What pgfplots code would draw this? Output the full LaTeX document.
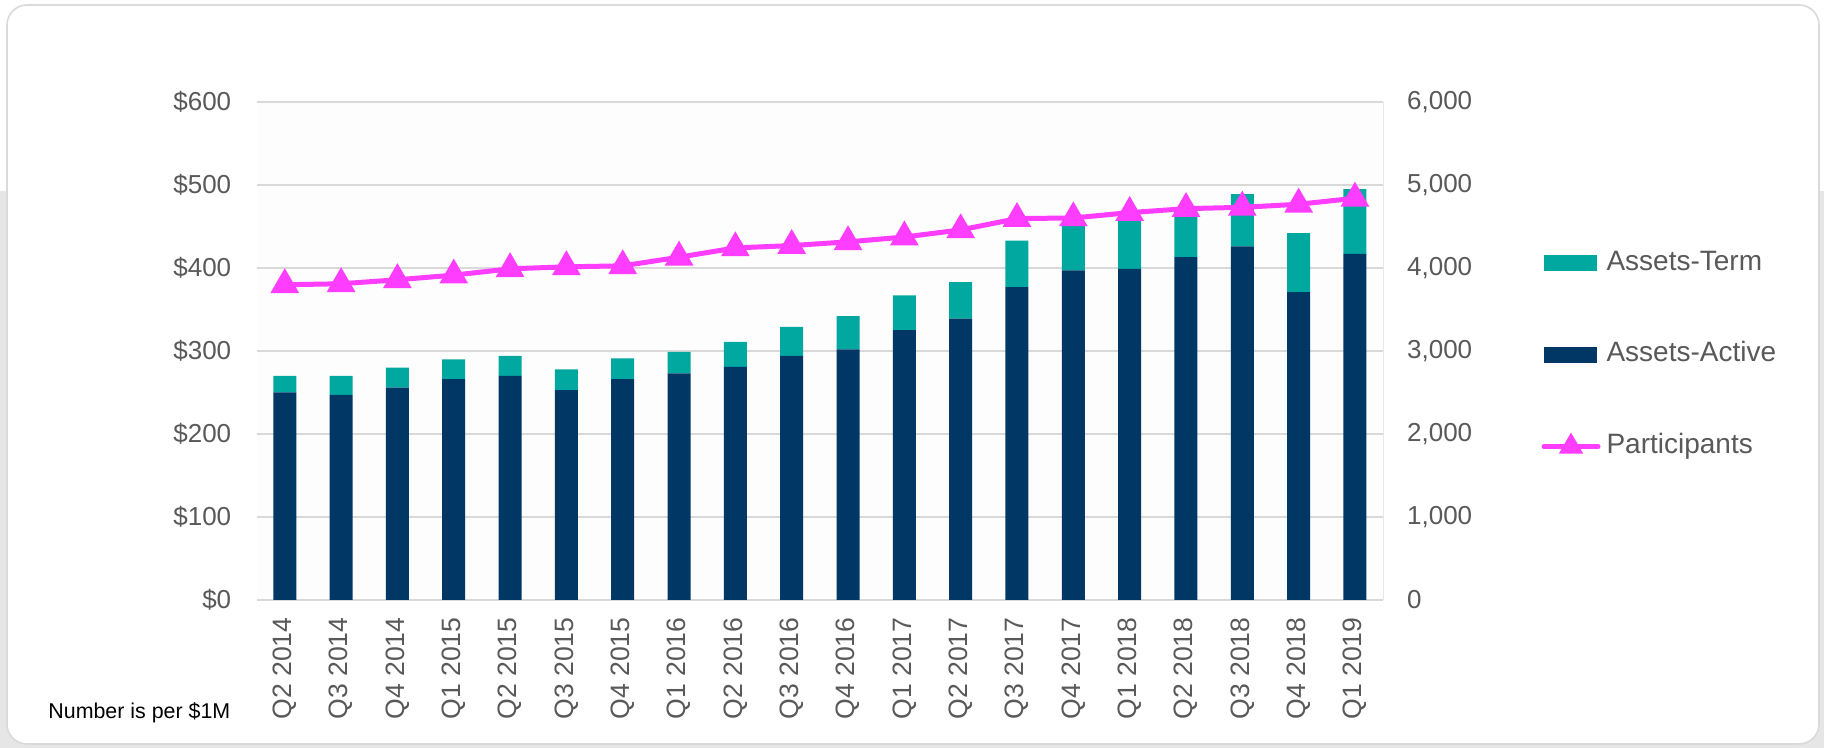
\documentclass[border=0pt]{standalone}
\usepackage{pgfplots}
\pgfplotsset{compat=1.18}
\usepackage{fontspec}
\setmainfont{Liberation Sans}
\definecolor{navy}{RGB}{0,55,100}
\definecolor{tealc}{RGB}{0,168,160}
\definecolor{mag}{RGB}{255,61,255}
\definecolor{labelgray}{RGB}{89,89,89}
\definecolor{gridgray}{RGB}{217,217,217}
\definecolor{cardborder}{RGB}{218,218,218}
\definecolor{bggray}{RGB}{230,230,230}
\definecolor{plotbg}{RGB}{253,253,253}
\begin{document}
\begin{tikzpicture}
\path[use as bounding box] (0,0) rectangle (912pt,374pt);
\fill[white] (0,0) rectangle (912pt,374pt);
\fill[bggray] (0,0) rectangle (912pt,278.5pt);
\draw[cardborder, line width=0.8pt, fill=white, rounded corners=10pt] (3.5pt,2pt) rectangle (909.5pt,371.5pt);
\begin{axis}[
  at={(128.3pt,74pt)}, anchor=south west,
  scale only axis, width=563.25pt, height=249pt,
  axis background/.style={fill=plotbg},
  xmin=-0.5, xmax=19.5, ymin=0, ymax=600,
  ybar stacked, bar width=11.5pt,
  axis line style={draw=none},
  major tick length=0pt,
  xtick={0,...,19},
  xticklabels={Q2 2014,Q3 2014,Q4 2014,Q1 2015,Q2 2015,Q3 2015,Q4 2015,Q1 2016,Q2 2016,Q3 2016,Q4 2016,Q1 2017,Q2 2017,Q3 2017,Q4 2017,Q1 2018,Q2 2018,Q3 2018,Q4 2018,Q1 2019},
  xticklabel style={yshift=-8.5pt, rotate=90, anchor=east, inner sep=0pt, font=\fontsize{13.3}{13.3}\selectfont, text=labelgray},
  ytick={0,100,...,600},
  yticklabels={\$0,\$100,\$200,\$300,\$400,\$500,\$600},
  yticklabel style={xshift=-12.5pt, anchor=east, inner sep=0pt, font=\fontsize{13}{13}\selectfont, text=labelgray},
  ymajorgrids, grid style={gridgray, line width=0.8pt},
]
\addplot[fill=navy, draw=none] coordinates {(0,250) (1,247) (2,256) (3,266) (4,270) (5,253) (6,266) (7,273) (8,281) (9,294) (10,302) (11,325) (12,339) (13,377) (14,397) (15,399) (16,413) (17,426) (18,371) (19,417)};
\addplot[fill=tealc, draw=none] coordinates {(0,20) (1,23) (2,24) (3,24) (4,24) (5,25) (6,25) (7,26) (8,30) (9,35) (10,40) (11,42) (12,44) (13,56) (14,57) (15,60) (16,59) (17,63) (18,71) (19,78)};
\end{axis}
\begin{axis}[
  at={(128.3pt,74pt)}, anchor=south west,
  scale only axis, width=563.25pt, height=249pt,
  xmin=-0.5, xmax=19.5, ymin=0, ymax=6000,
  axis x line=none,
  axis y line*=right,
  y axis line style={draw=gridgray!60, line width=0.5pt, -},
  major tick length=0pt,
  ytick={0,1000,...,6000},
  yticklabels={0,{1,000},{2,000},{3,000},{4,000},{5,000},{6,000}},
  yticklabel style={xshift=11.8pt, anchor=west, inner sep=0pt, font=\fontsize{13}{13}\selectfont, text=labelgray},
  legend style={at={(1,0.492)}, anchor=west, xshift=79pt, draw=none, fill=none, inner sep=0pt,
    font=\fontsize{14}{14}\selectfont, text=labelgray, row sep=32.8pt, column sep=3pt,
    nodes={inner sep=0pt, text height=10pt, text depth=3pt}},
  legend cell align=left,
]
\addlegendimage{legend image code/.code={\fill[tealc] (0pt,-3.75pt) rectangle (26pt,3.75pt);}}
\addlegendentry{Assets-Term}
\addlegendimage{legend image code/.code={\fill[navy] (0pt,-3.75pt) rectangle (26pt,3.75pt);}}
\addlegendentry{Assets-Active}
\addplot[mag, line width=2.5pt, mark=triangle*, mark size=5.8pt, mark options={solid},
  legend image code/.code={\draw[mag, line width=2.5pt, line cap=round] (0pt,0pt) -- (27pt,0pt); \fill[mag] (13.5pt,0pt) ++(90:4.5pt) -- ++(-120:7.8pt) -- ++(0:7.8pt) -- cycle;}]
  coordinates {(0,3798) (1,3810) (2,3858) (3,3914) (4,3990) (5,4014) (6,4026) (7,4130) (8,4242) (9,4270) (10,4315) (11,4373) (12,4459) (13,4595) (14,4603) (15,4667) (16,4715) (17,4731) (18,4768) (19,4840)};
\addlegendentry{Participants}
\end{axis}
\node[anchor=base west, inner sep=0pt, font=\fontsize{10.7}{10.7}\selectfont] at (24pt,14.5pt) {Number is per \$1M};
\end{tikzpicture}
\end{document}
